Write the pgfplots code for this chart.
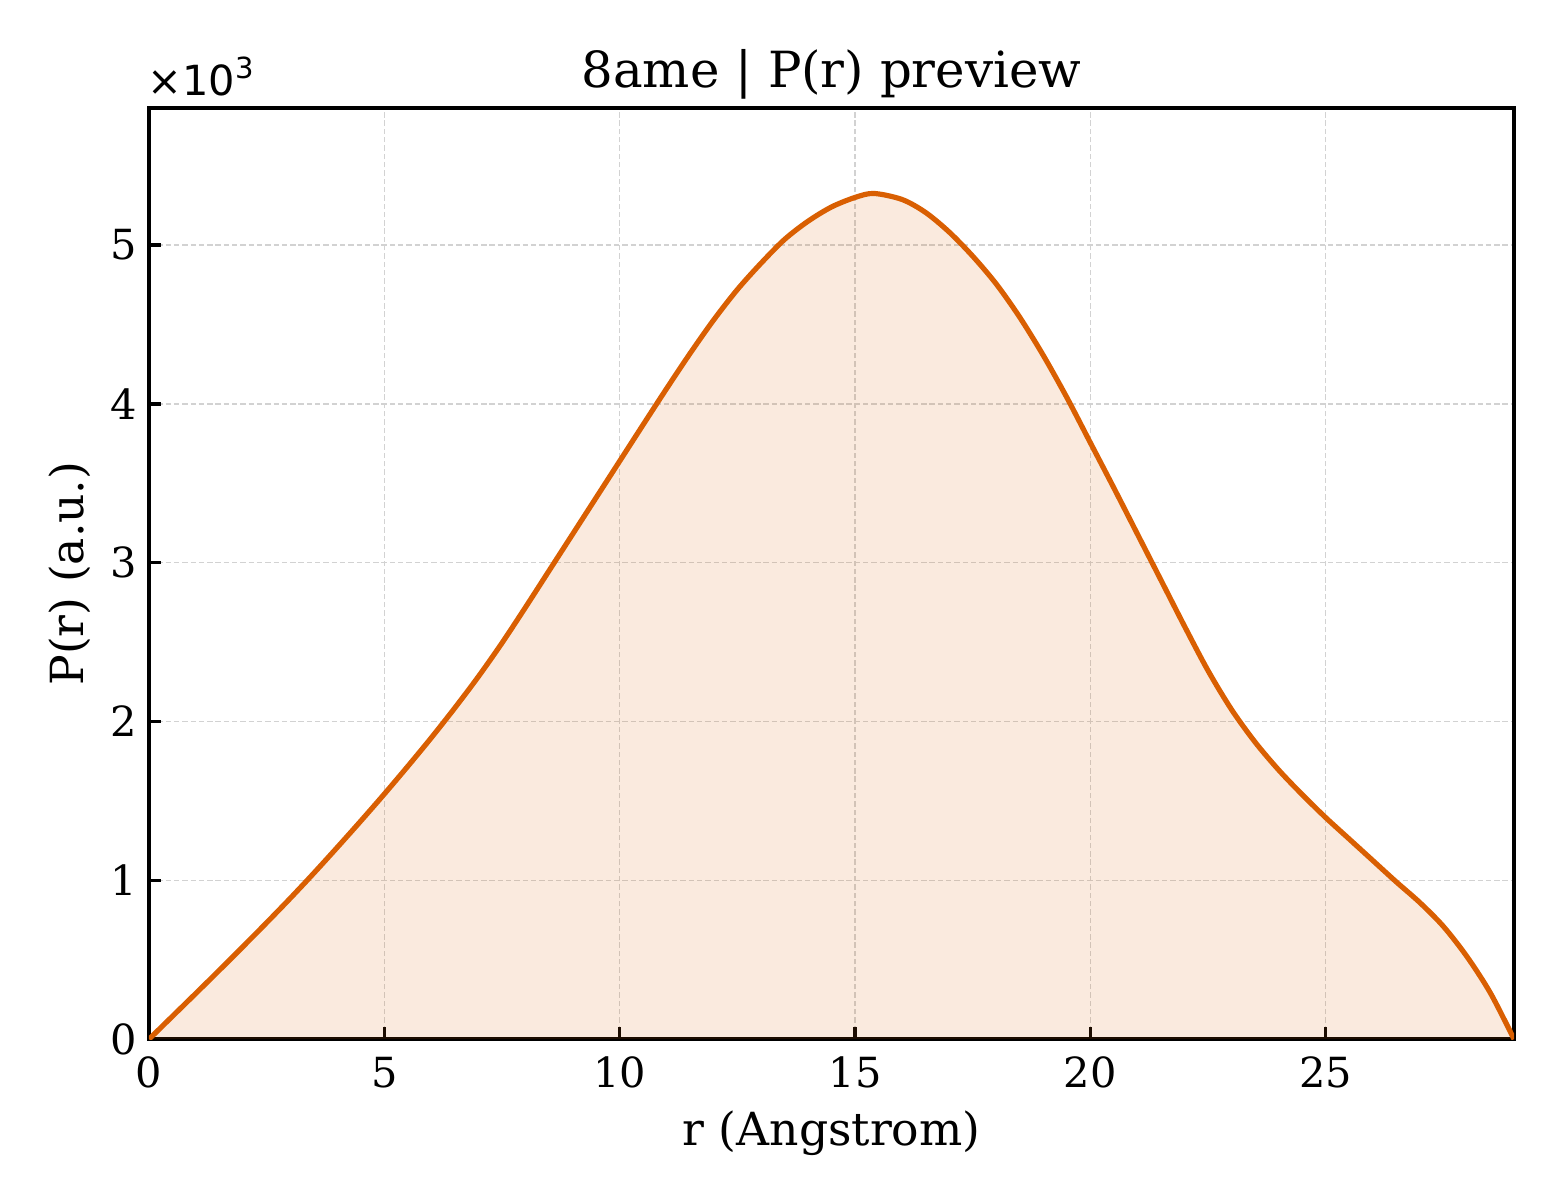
\documentclass[border=0pt]{standalone}
\usepackage{pgfplots}
\pgfplotsset{compat=1.18}
\usepackage{pgfplotstable}
\usepackage{fontspec}
\setmainfont{DejaVu Serif}
\newfontfamily\dvsans{DejaVu Sans}
\definecolor{prcol}{HTML}{D95F02}

% P(r) distribution, r in Angstrom
\pgfplotstableread{
r     p
0     0
0.5   145
1     290
1.5   436
2     584
2.5   734
3     887
3.5   1045
4     1208
4.5   1374
5     1544
5.5   1719
6     1899
6.5   2087
7     2284
7.5   2495
8     2720
8.5   2950
9     3180
9.5   3410
10    3640
10.5  3870
11    4098
11.5  4320
12    4530
12.5  4720
13    4885
13.5  5035
14    5150
14.5  5240
15    5300
15.4  5325
16    5287
16.5  5205
17    5082
17.5  4930
18    4755
18.5  4545
19    4305
19.5  4040
20    3755
20.5  3470
21    3180
21.5  2890
22    2600
22.5  2320
23    2075
23.5  1870
24    1695
24.5  1540
25    1395
25.5  1260
26    1125
26.5  990
27    860
27.5  710
28    520
28.5  290
29    0
}\prdata

\begin{document}
\begin{tikzpicture}
\begin{axis}[
    scale only axis,
    width=328.8pt, height=224.3pt,
    xmin=0, xmax=29, ymin=0, ymax=5863,
    xtick={0,5,...,25},
    ytick={0,1000,...,5000},
    scaled y ticks=base 10:-3,
    ytick scale label code/.code={},
    axis line style={line width=0.95pt},
    tick style={line width=0.8pt, black},
    major tick length=2.9pt,
    tick align=inside,
    xtick pos=bottom, ytick pos=left,
    grid=major,
    major grid style={dashed, dash pattern=on 1.3pt off 0.7pt, line width=0.35pt, gray!35},
    /pgf/number format/assume math mode=true,
    tick label style={font=\fontsize{10}{12}\selectfont},
    xticklabel style={anchor=north, inner sep=0pt, yshift=-4.1pt},
    yticklabel style={anchor=east, inner sep=0pt, xshift=-2.8pt},
    xlabel={r (Angstrom)},
    ylabel={P(r) (a.u.)},
    label style={font=\fontsize{11}{13}\selectfont, inner sep=0pt},
    xlabel style={at={(axis description cs:0.5,0)}, anchor=base, yshift=-25.5pt},
    ylabel style={at={(axis description cs:-0.0478,0.5)}, anchor=base},
    title={8ame | P(r) preview},
    title style={font=\fontsize{12}{14}\selectfont, inner sep=0pt, at={(axis description cs:0.5,1)}, anchor=base, yshift=-1pt},
]
\addplot[draw=none, fill=prcol, fill opacity=0.13, smooth] table[x=r, y=p] {\prdata} \closedcycle;
\addplot[prcol, line width=1.25pt, smooth] table[x=r, y=p] {\prdata};
\coordinate (sw) at (rel axis cs:0,0);
\coordinate (ne) at (rel axis cs:1,1);
\coordinate (tl) at (rel axis cs:0,1);
\end{axis}
\node[anchor=base west, inner sep=0pt, xshift=-0.5pt, yshift=3.1pt] at (tl)
    {\fontsize{10}{12}\dvsans ×10\raisebox{0.75ex}{\fontsize{7}{8}\selectfont 3}};
\pgfresetboundingbox
\useasboundingbox ([xshift=-35.89pt,yshift=-38.78pt]sw) rectangle ([xshift=11.08pt,yshift=26.02pt]ne);
\end{tikzpicture}
\end{document}
